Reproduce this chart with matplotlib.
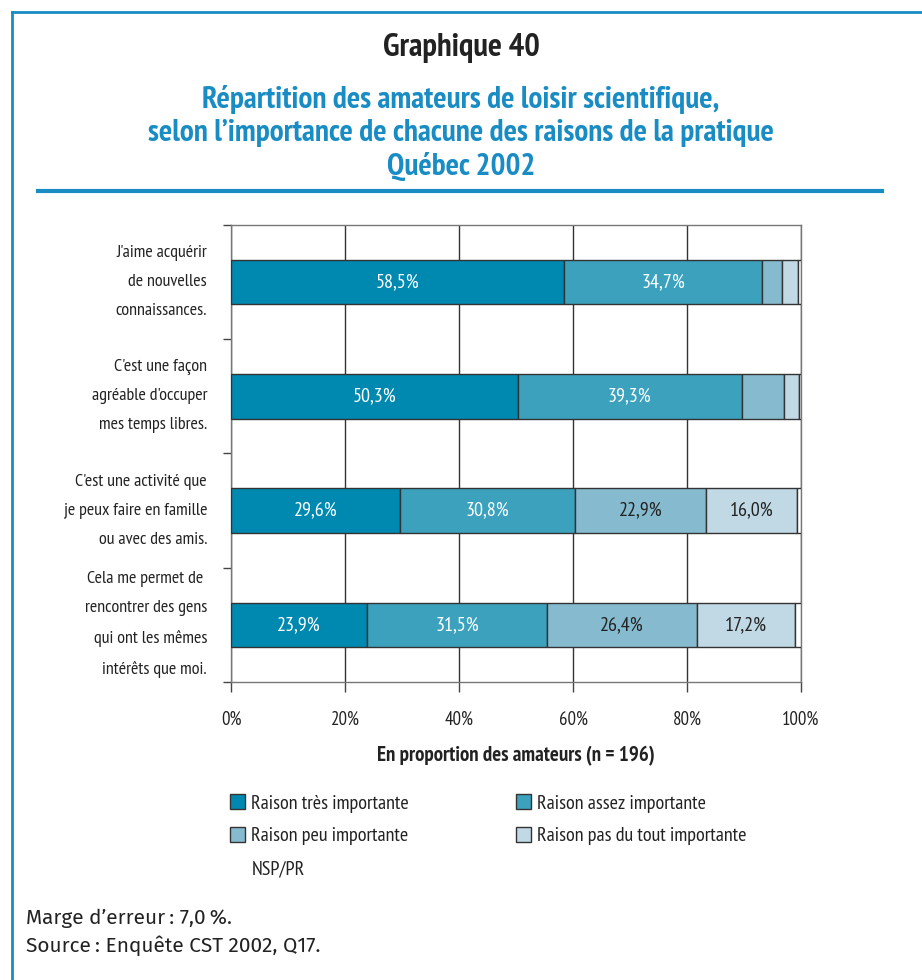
import matplotlib
matplotlib.use("Agg")
import matplotlib.pyplot as plt
from matplotlib import font_manager
from matplotlib.patches import Patch
from matplotlib.lines import Line2D
import numpy as np


def pick(cands, need_bold=True):
    fl = font_manager.fontManager.ttflist
    for c in cands:
        ws = [f.weight for f in fl if f.name == c and f.style == "normal"]
        if ws and (not need_bold or any(int(w) >= 600 for w in ws if str(w).isdigit())):
            return c
    return "DejaVu Sans"


narrow = pick(["PT Sans Narrow", "Archivo Narrow", "Roboto Condensed", "Fira Sans Condensed",
               "Encode Sans Condensed", "Liberation Sans Narrow"])
plain = pick(["Fira Sans", "Open Sans", "Lato"], need_bold=False)
plt.rcParams['font.family'] = [narrow, 'DejaVu Sans']

categories = ["J'aime acquérir\nde nouvelles\nconnaissances.",
              "C'est une façon\nagréable d'occuper\nmes temps libres.",
              "C'est une activité que\nje peux faire en famille\nou avec des amis.",
              "Cela me permet de \nrencontrer des gens\nqui ont les mêmes\nintérêts que moi."]
series = ["Raison très importante", "Raison assez importante",
          "Raison peu importante", "Raison pas du tout importante", "NSP/PR"]
tres = [58.5, 50.3, 29.6, 23.9]
assez = [34.7, 39.3, 30.8, 31.5]
peu = [3.5, 7.4, 22.9, 26.4]
pas = [2.7, 2.7, 16.0, 17.2]
nsp = [0.6, 0.3, 0.7, 1.0]
shown = [[True] * 4, [True] * 4, [False, False, True, True], [False, False, True, True], [False] * 4]

colors = ["#0089b0", "#3ba1bc", "#86bbcf", "#c1d9e4", "#ffffff"]
text_colors = ["white", "white", "#222222", "#222222", "#222222"]
blue = "#1a8cc4"

fig = plt.figure(figsize=(9.22, 9.8), dpi=100)
ax = fig.add_axes([231 / 922, 1 - 682 / 980, 570 / 922, 457 / 980])

y = np.arange(len(categories))
left = np.zeros(len(categories))
data = [tres, assez, peu, pas, nsp]
for i, vals in enumerate(data):
    ax.barh(y, vals, left=left, height=0.39, color=colors[i],
            edgecolor="#333333", linewidth=1.0, zorder=3)
    for j, v in enumerate(vals):
        if shown[i][j]:
            ax.text(left[j] + v / 2, y[j], f"{v:.1f}%".replace(".", ","),
                    ha="center", va="center", fontsize=14.5, color=text_colors[i], zorder=4)
    left += np.array(vals)

ax.set_xlim(0, 100)
ax.set_ylim(3.5, -0.5)
ax.set_xticks([0, 20, 40, 60, 80, 100])
ax.set_xticklabels(["0%", "20%", "40%", "60%", "80%", "100%"], fontsize=13.5, color="#222222")
ax.tick_params(axis="x", length=7, width=1, color="#444444", pad=14)
ax.set_yticks(np.arange(-0.5, 4, 1))
ax.set_yticklabels([])
ax.tick_params(axis="y", length=6, width=1, color="#444444")
ax.grid(axis="x", color="#333333", linewidth=1, zorder=0)
for s in ax.spines.values():
    s.set_color("#777777")
    s.set_linewidth(1)

for j, lab in enumerate(categories):
    ax.text(-4.2, y[j], lab, ha="right", va="center", fontsize=13,
            color="#222222", linespacing=2.08, transform=ax.transData)

ax.set_xlabel("En proportion des amateurs (n = 196)", fontsize=15, fontweight="bold",
              color="#222222", labelpad=12)

# legend: column-first order
order = [0, 2, 4, 1, 3]
handles = []
for i in order:
    if i == 4:
        handles.append(Patch(facecolor="white", edgecolor="none", label=series[i]))
    else:
        handles.append(Patch(facecolor=colors[i], edgecolor="#333333", linewidth=1, label=series[i]))
fig.legend(handles=handles, loc="upper left", bbox_to_anchor=(212 / 922, 1 - 776 / 980),
           ncol=2, frameon=False, fontsize=14.5, handlelength=0.75, handleheight=0.75,
           handletextpad=0.3, columnspacing=5.3, labelspacing=0.72, labelcolor="#222222")

# titles
fig.text(0.5, 1 - 48 / 980, "Graphique 40", ha="center", va="center",
         fontsize=23.5, fontweight="bold", color="#222222")
fig.text(0.5, 1 - 133 / 980,
         "Répartition des amateurs de loisir scientifique,\n"
         "selon l’importance de chacune des raisons de la pratique\nQuébec 2002",
         ha="center", va="center", fontsize=22.5, fontweight="bold", color=blue, linespacing=1.22)
fig.add_artist(Line2D([38 / 922, 882 / 922], [1 - 191 / 980] * 2, color=blue, linewidth=3))

# frame
fig.add_artist(Line2D([12 / 922, 12 / 922], [0, 1 - 12 / 980], color=blue, linewidth=2))
fig.add_artist(Line2D([12 / 922, 1], [1 - 12 / 980] * 2, color=blue, linewidth=2))

fig.text(26 / 922, 1 - 918 / 980, "Marge d’erreur\u2009: 7,0\u2009%.", ha="left", va="center",
         fontsize=15, color="#222222", family=[plain, "DejaVu Sans"])
fig.text(26 / 922, 1 - 946 / 980, "Source\u2009: Enquête CST 2002, Q17.", ha="left", va="center",
         fontsize=15, color="#222222", family=[plain, "DejaVu Sans"])

fig.savefig("out.png", dpi=100)
